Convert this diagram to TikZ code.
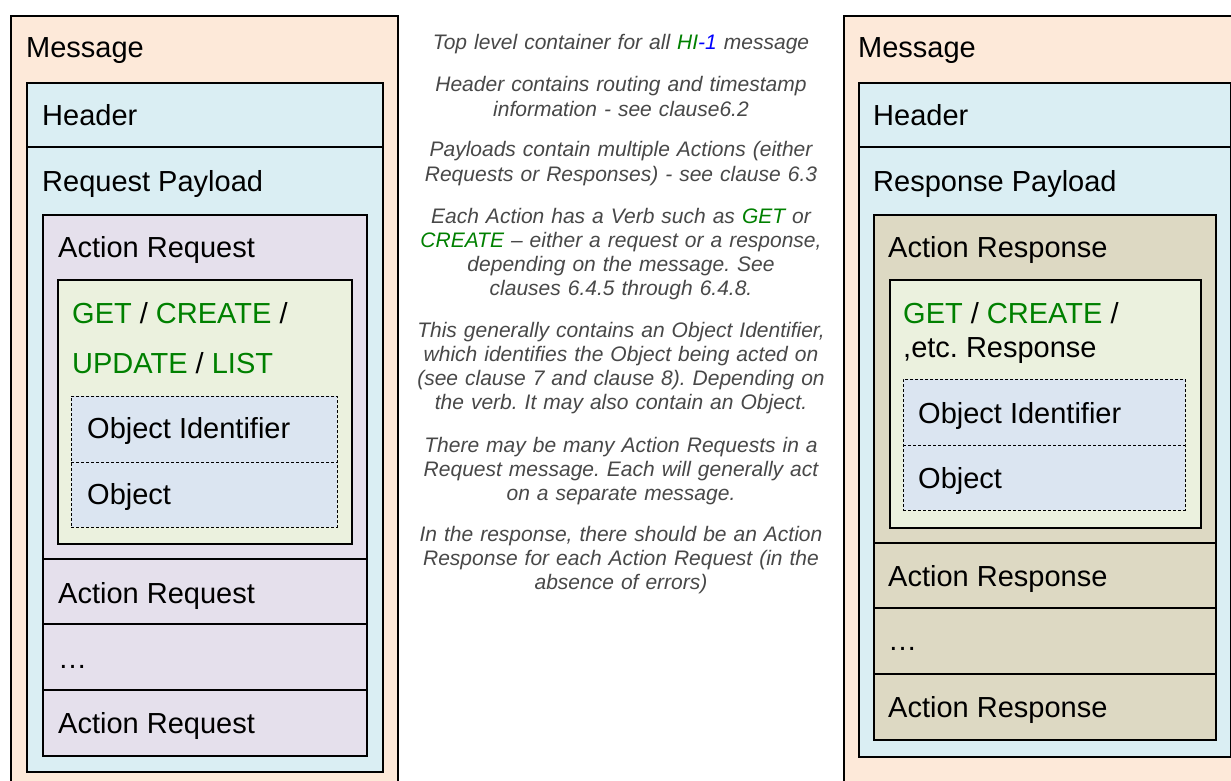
\documentclass[tikz,border=0pt]{standalone}
\usepackage{fontspec}
\setmainfont{Liberation Sans}
\frenchspacing
\definecolor{peach}{HTML}{FDE9D9}
\definecolor{hblue}{HTML}{DAEEF3}
\definecolor{lav}{HTML}{E5E0EC}
\definecolor{lgreen}{HTML}{EBF1DE}
\definecolor{objblue}{HTML}{DBE5F1}
\definecolor{tan}{HTML}{DDD9C3}
\definecolor{verbgreen}{RGB}{0,128,0}
\definecolor{notegray}{RGB}{72,72,72}
\begin{document}
\begin{tikzpicture}[x=1pt,y=-1pt,
  box/.style={draw=black, line width=2pt, rectangle, inner sep=0pt, anchor=north west},
  dashbox/.style={draw=black, line width=0.9pt, dash pattern=on 3pt off 2pt, rectangle, inner sep=0pt, anchor=north west, fill=objblue},
  divider/.style={draw=black, line width=1.1pt},
  dashdiv/.style={draw=black, line width=0.9pt, dash pattern=on 3pt off 2pt},
  lbl/.style={anchor=base west, inner sep=0pt, font=\fontsize{29}{34}\selectfont},
  note/.style={anchor=base, inner sep=0pt, align=center, text width=440pt,
    font=\fontsize{21}{24.3}\selectfont\itshape\frenchspacing, text=notegray}]
\clip (0,0) rectangle (1231,781);
\fill[white] (0,0) rectangle (1231,781);

% ---------- left column (request) ----------
\node[box, fill=peach, minimum width=387pt, minimum height=800pt] (lmsg) at (10,15) {};
\node[box, fill=hblue, minimum width=356pt, minimum height=689pt] (lblue) at (26,82) {};
\draw[divider] (lblue.west |- 0,147) -- (lblue.east |- 0,147);
\node[box, fill=lav, minimum width=324pt, minimum height=541pt] (lact) at (42,214) {};
\draw[divider] (lact.west |- 0,559) -- (lact.east |- 0,559);
\draw[divider] (lact.west |- 0,624) -- (lact.east |- 0,624);
\draw[divider] (lact.west |- 0,690) -- (lact.east |- 0,690);
\node[box, fill=lgreen, minimum width=294pt, minimum height=264pt] (lgrn) at (57,279) {};
\node[dashbox, minimum width=266pt, minimum height=131pt] (lobj) at (71,396) {};
\draw[dashdiv] (lobj.west |- 0,462) -- (lobj.east |- 0,462);

\node[lbl] (lmsgt) at (26,58) {Message};
\node[lbl] (lhdrt) at (42,126) {Header};
\node[lbl] (lpayt) at (42,191) {Request Payload};
\node[lbl] (lact1) at (58,257) {Action Request};
\node[lbl] (lverb1) at (72,323) {\textcolor{verbgreen}{GET} / \textcolor{verbgreen}{CREATE} /};
\node[lbl] (lverb2) at (72,373) {\textcolor{verbgreen}{UPDATE} / \textcolor{verbgreen}{LIST}};
\node[lbl] (loid) at (87,438) {Object Identifier};
\node[lbl] (lob) at (87,504) {Object};
\node[lbl] (lact2) at (58,603) {Action Request};
\node[lbl] (ldots) at (58,668) {…};
\node[lbl] (lact3) at (58,733) {Action Request};

% ---------- middle notes ----------
\node[note] (n1) at (621,50) {Top level container for all \textcolor{verbgreen}{HI}\textcolor{blue}{-1} message};
\node[note] (n2) at (621,92) {Header contains routing and timestamp\\information - see clause6.2};
\node[note] (n3) at (621,157) {Payloads contain multiple Actions (either\\Requests or Responses) - see clause 6.3};
\node[note] (n4) at (621,223) {Each Action has a Verb such as \textcolor{verbgreen}{GET} or\\\textcolor{verbgreen}{CREATE} – either a request or a response,\\depending on the message. See\\clauses 6.4.5 through 6.4.8.};
\node[note] (n5) at (621,337) {This generally contains an Object Identifier,\\which identifies the Object being acted on\\(see clause 7 and clause 8). Depending on\\the verb. It may also contain an Object.};
\node[note] (n6) at (621,452) {There may be many Action Requests in a\\Request message. Each will generally act\\on a separate message.};
\node[note] (n7) at (621,541) {In the response, there should be an Action\\Response for each Action Request (in the\\absence of errors)};

% ---------- right column (response) ----------
\node[box, fill=peach, minimum width=420pt, minimum height=800pt] (rmsg) at (843,15) {};
\node[box, fill=hblue, minimum width=372pt, minimum height=674pt] (rblue) at (858,82) {};
\draw[divider] (rblue.west |- 0,147) -- (rblue.east |- 0,147);
\node[box, fill=tan, minimum width=342pt, minimum height=525pt] (ract) at (873,214) {};
\draw[divider] (ract.west |- 0,543) -- (ract.east |- 0,543);
\draw[divider] (ract.west |- 0,608) -- (ract.east |- 0,608);
\draw[divider] (ract.west |- 0,674) -- (ract.east |- 0,674);
\node[box, fill=lgreen, minimum width=311pt, minimum height=248pt] (rgrn) at (889,279) {};
\node[dashbox, minimum width=282pt, minimum height=131pt] (robj) at (903,379) {};
\draw[dashdiv] (robj.west |- 0,445) -- (robj.east |- 0,445);

\node[lbl] (rmsgt) at (858,58) {Message};
\node[lbl] (rhdrt) at (873,126) {Header};
\node[lbl] (rpayt) at (873,191) {Response Payload};
\node[lbl] (ract1) at (888,257) {Action Response};
\node[lbl] (rverb1) at (903,323) {\textcolor{verbgreen}{GET} / \textcolor{verbgreen}{CREATE} /};
\node[lbl] (rverb2) at (903,357) {,etc. Response};
\node[lbl] (roid) at (918,423) {Object Identifier};
\node[lbl] (rob) at (918,488) {Object};
\node[lbl] (ract2) at (888,586) {Action Response};
\node[lbl] (rdots) at (888,650) {…};
\node[lbl] (ract3) at (888,717) {Action Response};
\end{tikzpicture}
\end{document}
